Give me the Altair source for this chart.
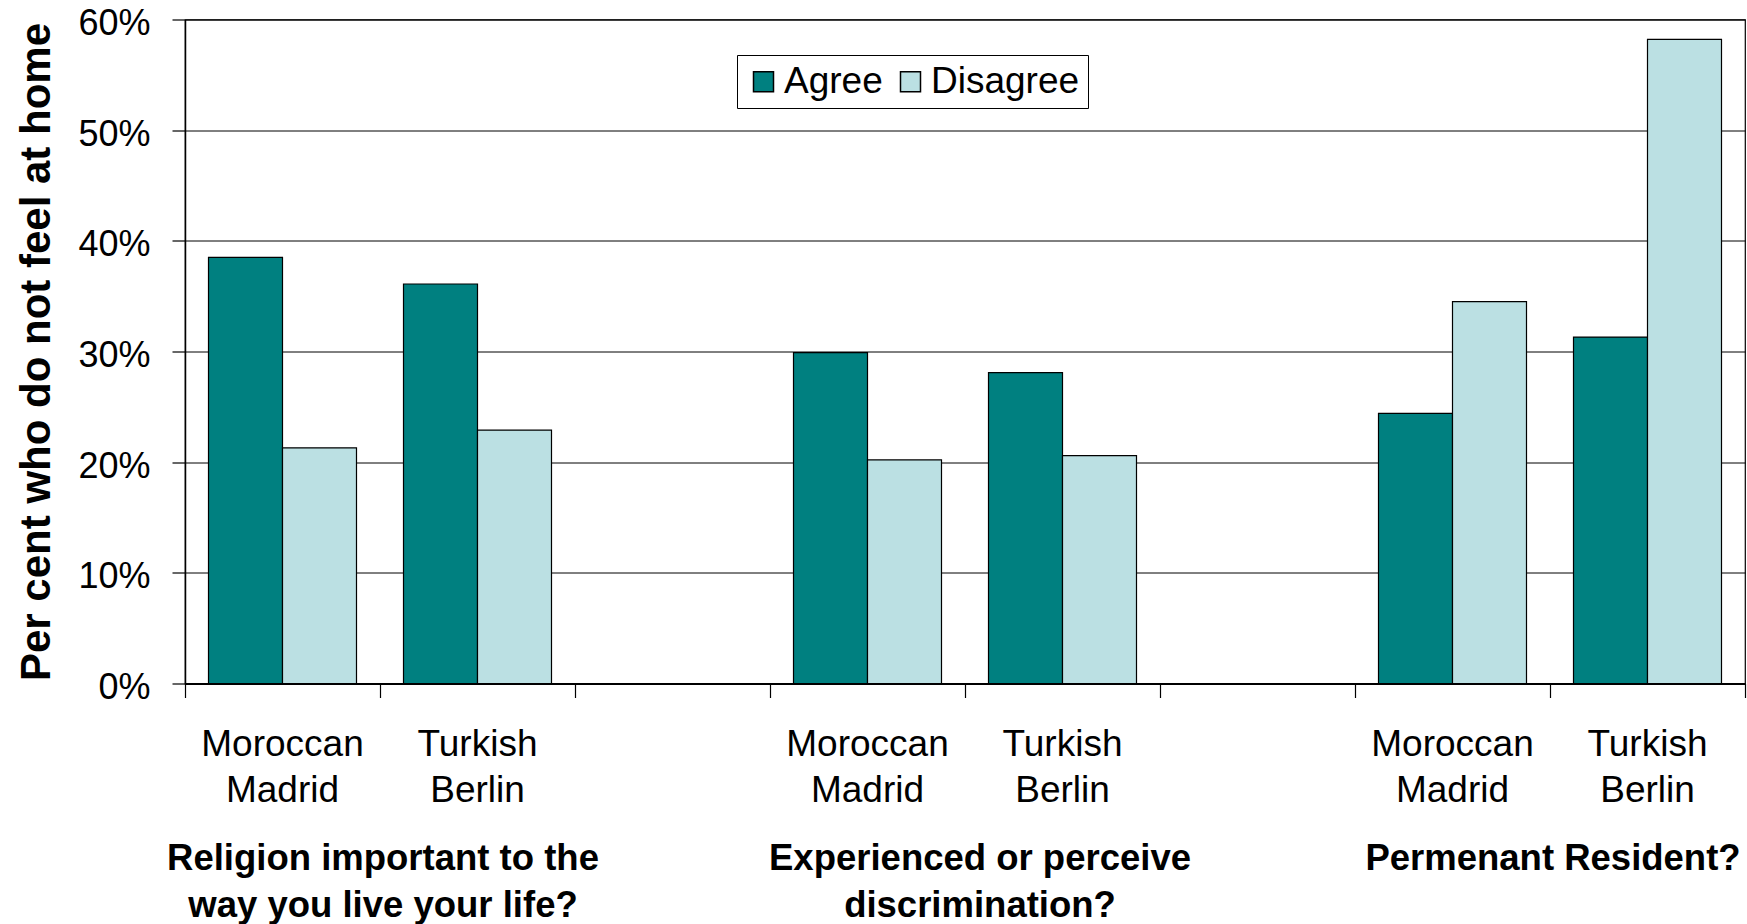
import altair as alt
import pandas as pd

# ---- data ----
groups = [
    "Religion important to the\nway you live your life?",
    "Experienced or perceive\ndiscrimination?",
    "Permenant Resident?",
]
sites = ["Moroccan\nMadrid", "Turkish\nBerlin"]
series = ["Agree", "Disagree"]
agree = [38.5, 36.1, 29.9, 28.1, 24.4, 31.3]
disagree = [21.3, 22.9, 20.2, 20.6, 34.5, 58.2]
y_ticks = [0, 0.1, 0.2, 0.3, 0.4, 0.5, 0.6]
colors = ["#008080", "#BBE0E3"]

FONT = "Liberation Sans, Arial, sans-serif"

# slot domain: two sites per group plus an empty gap slot between groups
slot_domain = []
for gi in range(len(groups)):
    for si in range(len(sites)):
        slot_domain.append(f"g{gi}s{si}")
    if gi < len(groups) - 1:
        slot_domain.append(f"g{gi}gap")

rows = []
site_rows = []
k = 0
for gi in range(len(groups)):
    for si, s in enumerate(sites):
        slot = f"g{gi}s{si}"
        rows.append({"slot": slot, "series": "Agree", "value": agree[k] / 100})
        rows.append({"slot": slot, "series": "Disagree", "value": disagree[k] / 100})
        site_rows.append({"slot": slot, "label": s})
        k += 1
df = pd.DataFrame(rows)
sdf = pd.DataFrame(site_rows)

gdf = pd.DataFrame({
    "slot": [f"g{gi}s1" for gi in range(len(groups))],
    "label": groups,
    "group": list(range(len(groups))),
})

x_scale = alt.Scale(domain=slot_domain, paddingInner=0, paddingOuter=0)

bars = alt.Chart(df).mark_bar(stroke="black", strokeWidth=1.2).encode(
    x=alt.X(
        "slot:N",
        scale=x_scale,
        title=None,
        axis=alt.Axis(
            tickBand="extent",
            labels=False,
            tickSize=14,
            tickColor="black",
            tickWidth=1.2,
            domainColor="black",
            domainWidth=2,
            grid=False,
        ),
    ),
    xOffset=alt.XOffset(
        "series:N",
        scale=alt.Scale(domain=series, paddingInner=0, paddingOuter=0.3176),
    ),
    y=alt.Y(
        "value:Q",
        scale=alt.Scale(domain=[0, 0.6], nice=False),
        title="Per cent who do not feel at home",
        axis=alt.Axis(
            values=y_ticks,
            format=".0%",
            grid=True,
            gridColor="black",
            gridWidth=1,
            tickColor="black",
            tickSize=13,
            tickWidth=1.2,
            domainColor="black",
            domainWidth=1.5,
            labelFont=FONT,
            labelFontSize=36,
            labelColor="black",
            labelPadding=22,
            labelOffset=4,
            titleFont=FONT,
            titleFontSize=42,
            titleFontWeight="bold",
            titleColor="black",
            titlePadding=19,
        ),
    ),
    color=alt.Color(
        "series:N",
        scale=alt.Scale(domain=series, range=colors),
        legend=alt.Legend(
            title=None,
            orient="none",
            legendX=552,
            legendY=35.5,
            direction="horizontal",
            fillColor="white",
            strokeColor="black",
            padding=8,
            symbolType="square",
            symbolSize=400,
            symbolStrokeColor="black",
            symbolStrokeWidth=1.5,
            symbolOpacity=1,
            labelFont=FONT,
            labelFontSize=37,
            labelColor="black",
            labelOffset=2,
            columnPadding=9,
            labelLimit=400,
        ),
    ),
)

site_text = alt.Chart(sdf).mark_text(
    font=FONT,
    fontSize=37,
    color="black",
    lineBreak="\n",
    lineHeight=46,
    baseline="alphabetic",
    align="center",
).encode(
    x=alt.X("slot:N", title=None),
    y=alt.value(736.5),
    text="label:N",
)

group_style = dict(
    font=FONT,
    fontSize=36.5,
    fontWeight="bold",
    color="black",
    lineBreak="\n",
    lineHeight=47,
    baseline="alphabetic",
    align="center",
)
group_enc = dict(
    x=alt.X("slot:N", bandPosition=0, title=None),
    y=alt.value(850),
    text="label:N",
)

group_text_a = alt.Chart(gdf).mark_text(dx=3, **group_style).encode(**group_enc).transform_filter(
    "datum.group != 1"
)
group_text_b = alt.Chart(gdf).mark_text(dx=15, **group_style).encode(**group_enc).transform_filter(
    "datum.group == 1"
)

chart = alt.layer(bars, site_text, group_text_a, group_text_b).properties(
    width=1560,
    height=664,
    background="white",
    autosize=alt.AutoSizeParams(type="none"),
    padding={"left": 185, "top": 19.5, "right": 2, "bottom": 240.5},
).configure_view(
    stroke="black",
    strokeWidth=1.2,
)

chart.save("out.html", embed_options={"renderer": "svg", "actions": False})
